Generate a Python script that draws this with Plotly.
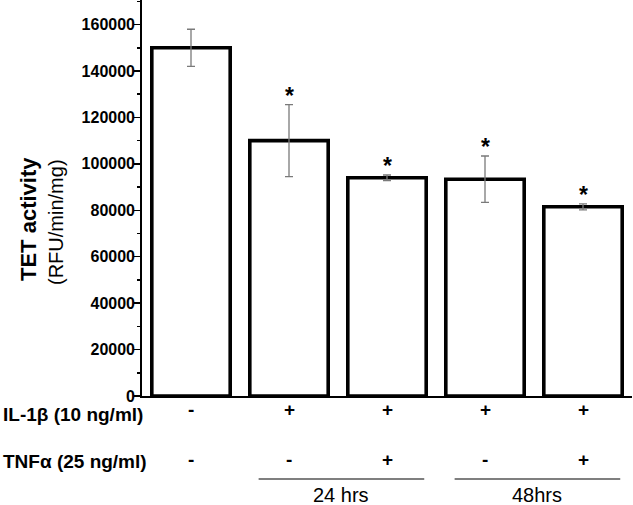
import plotly.graph_objects as go

# ---- data ----
conditions = ["Control", "IL-1b 24h", "IL-1b+TNFa 24h", "IL-1b 48h", "IL-1b+TNFa 48h"]
tet_activity = [150000, 110000, 94000, 93400, 81500]
sem = [8000, 15500, 1200, 10000, 1300]
significance = ["", "*", "*", "*", "*"]
il1b_row = ["-", "+", "+", "+", "+"]
tnfa_row = ["-", "-", "+", "-", "+"]
row_labels = ["IL-1β (10 ng/ml)", "TNFα (25 ng/ml)"]
time_groups = ["24 hrs", "48hrs"]
time_members = [[1, 2], [3, 4]]
y_ticks = [0, 20000, 40000, 60000, 80000, 100000, 120000, 140000, 160000]

xpos = list(range(len(conditions)))

W, H = 633, 505
L, R, T, B = 142, 1, 0, 109
PH = H - T - B

fig = go.Figure()
fig.add_trace(go.Bar(
    x=xpos, y=tet_activity, width=0.8,
    marker=dict(color="white", line=dict(color="black", width=3.6)),
    error_y=dict(type="data", array=sem, visible=True, color="#7a7a7a", thickness=1.3, width=4),
    hoverinfo="skip",
))

ann = []
bold = dict(family="Liberation Sans, Arial, sans-serif", color="black")

def py(px):
    # pixel row (from top of image) -> paper y
    return (PH - (px - T)) / PH

# asterisks
for i, s in enumerate(significance):
    if s:
        ann.append(dict(x=xpos[i], y=tet_activity[i] + sem[i], xref="x", yref="y",
                        text="<b>" + s + "</b>", showarrow=False, yanchor="bottom",
                        yshift=-6, font=dict(size=23, **bold)))

# treatment rows
for i in xpos:
    ann.append(dict(x=i, y=py(410), xref="x", yref="paper", text="<b>" + il1b_row[i] + "</b>",
                    showarrow=False, yanchor="middle", font=dict(size=19, **bold)))
    ann.append(dict(x=i, y=py(459), xref="x", yref="paper", text="<b>" + tnfa_row[i] + "</b>",
                    showarrow=False, yanchor="middle", font=dict(size=19, **bold)))

for lab, ypx in zip(row_labels, [414, 461]):
    ann.append(dict(x=0, y=py(ypx), xref="paper", yref="paper", xanchor="left", xshift=-L + 1,
                    text="<b>" + lab + "</b>", showarrow=False, yanchor="middle",
                    font=dict(size=19, **bold)))

shapes = []
for g, mem in zip(time_groups, time_members):
    x0, x1 = mem[0] - 0.31, mem[-1] + 0.38
    shapes.append(dict(type="line", xref="x", yref="paper", x0=x0, x1=x1,
                       y0=py(479), y1=py(479), line=dict(color="black", width=1.2)))
    ann.append(dict(x=(x0 + x1) / 2, y=py(495), xref="x", yref="paper", text=g,
                    showarrow=False, yanchor="middle",
                    font=dict(size=20, family="Liberation Sans, Arial, sans-serif", color="black")))

# y axis title
ann.append(dict(x=0, y=py(219), xref="paper", yref="paper", xshift=29 - L, text="<b>TET activity</b>",
                textangle=-90, showarrow=False, xanchor="center", yanchor="middle",
                font=dict(size=22, **bold)))
ann.append(dict(x=0, y=py(222), xref="paper", yref="paper", xshift=56 - L, text="(RFU/min/mg)",
                textangle=-90, showarrow=False, xanchor="center", yanchor="middle",
                font=dict(size=20, family="Liberation Sans, Arial, sans-serif", color="black")))

fig.update_layout(
    width=W, height=H,
    margin=dict(l=L, r=R, t=T, b=B, pad=0),
    paper_bgcolor="white", plot_bgcolor="white",
    showlegend=False,
    annotations=ann, shapes=shapes,
    xaxis=dict(range=[-0.5, 4.5], showticklabels=False, ticks="", showgrid=False,
               zeroline=False, showline=True, linecolor="black", linewidth=1.5, fixedrange=True),
    yaxis=dict(range=[0, 170600], tickvals=y_ticks, ticktext=[str(v) for v in y_ticks],
               ticks="outside", ticklen=6, tickwidth=1.5, tickcolor="black",
               minor=dict(dtick=10000, ticks="outside", ticklen=3, tickwidth=1.5, tickcolor="black"),
               showgrid=False, zeroline=False, showline=True, linecolor="black", linewidth=1.8,
               tickfont=dict(size=16, family="Liberation Sans, Arial, sans-serif", color="black",
                             weight="bold"),
               ticklabelstandoff=-4, fixedrange=True),
)

fig.write_html("out.html", config={"displayModeBar": False, "staticPlot": True},
               post_script="document.body.style.margin='0';")
